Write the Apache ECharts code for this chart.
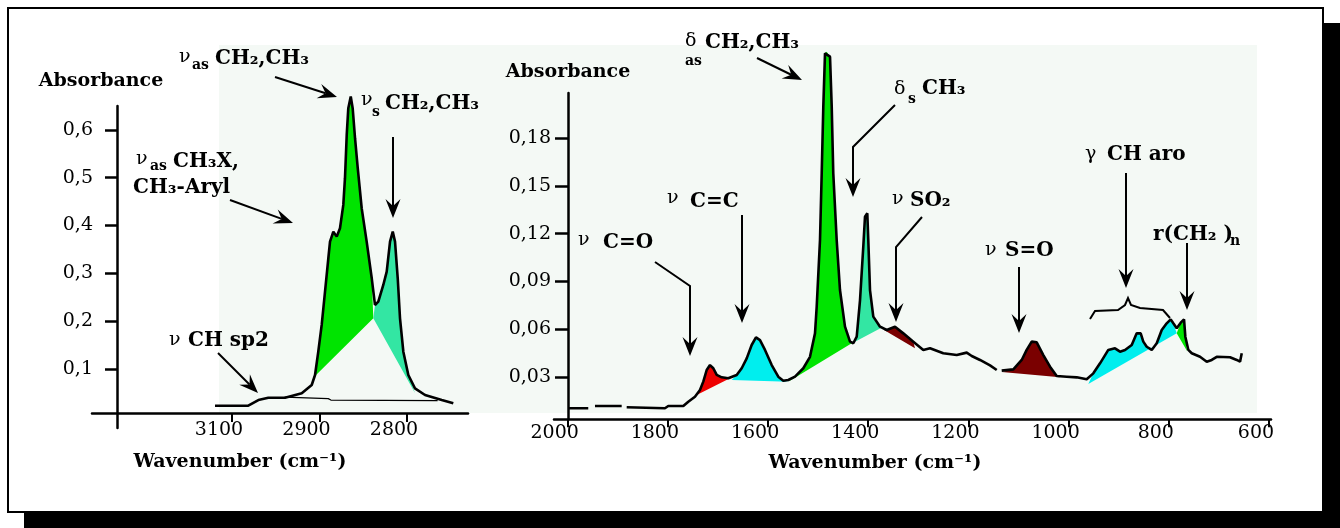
<!DOCTYPE html>
<html><head><meta charset="utf-8">
<script src="https://cdn.jsdelivr.net/npm/echarts@6/dist/echarts.min.js"></script>
<style>html,body{margin:0;padding:0;background:#fff}#c{width:1340px;height:528px}</style>
</head><body><div id="c"></div>
<script>
// ---------- data ----------
const leftWn = [3019.4, 2981.4, 2969.9, 2958.5, 2939.4, 2920.3, 2908.9, 2905.1, 2901.4, 2897.5, 2893.7, 2889.9, 2888.0, 2884.2, 2880.3, 2876.6, 2872.8, 2870.9, 2868.9, 2867.1, 2864.3, 2862.1, 2859.4, 2856.3, 2851.8, 2846.1, 2840.3, 2836.6, 2832.8, 2827.1, 2823.2, 2819.4, 2816.3, 2813.7, 2810.6, 2808.0, 2804.2, 2798.5, 2790.9, 2779.4, 2760.3, 2747.1];
const leftAbs = [0.0232, 0.0232, 0.0351, 0.0400, 0.0400, 0.0492, 0.0665, 0.0874, 0.1362, 0.1921, 0.2617, 0.3316, 0.3663, 0.3872, 0.3768, 0.3944, 0.4431, 0.4990, 0.5895, 0.6454, 0.6697, 0.6454, 0.5826, 0.5199, 0.4362, 0.3663, 0.2897, 0.2339, 0.2408, 0.2757, 0.3036, 0.3663, 0.3872, 0.3663, 0.2897, 0.2061, 0.1362, 0.0874, 0.0596, 0.0456, 0.0351, 0.0282];
const leftBaseWn = [2940, 2890, 2887, 2765];
const leftBaseAbs = [0.041, 0.038, 0.035, 0.034];
const leftBandWn = [[2907.4, 2838.5], [2838.5, 2790.9]];
const leftBandAbs = [[0.0812, 0.2061], [0.2061, 0.050]];
const leftXTicks = [3000, 2900, 2800];
const leftXTickLabels = ['3100', '2900', '2800'];
const leftYTicks = [0.1, 0.2, 0.3, 0.4, 0.5, 0.6];
const leftYTickLabels = ['0,1', '0,2', '0,3', '0,4', '0,5', '0,6'];

const rightWn = [1998.8, 1958.9, 1952, 1945.5, 1892.2, 1887, 1882.2, 1805.8, 1799.2, 1769.2, 1759.2, 1745.9, 1735.9, 1729.3, 1722.5, 1715.9, 1709.3, 1702.5, 1692.6, 1679.4, 1662.6, 1652.6, 1642.6, 1632.7, 1624.1, 1616.1, 1606.1, 1592.7, 1579.6, 1569.6, 1559.6, 1546.2, 1529.6, 1516.3, 1506.3, 1502.9, 1496.3, 1492.9, 1489.7, 1486.3, 1482.9, 1476.3, 1472.9, 1469.8, 1463.0, 1456.4, 1446.4, 1436.4, 1429.8, 1423.0, 1416.4, 1409.9, 1406.5, 1401.9, 1399.9, 1396.5, 1389.9, 1376.5, 1363.1, 1346.6, 1330.0, 1310.0, 1290.1, 1276.7, 1250.2, 1223.4, 1203.4, 1193.4, 1176.9, 1156.9, 1143.5, 1138, 1133.6, 1110.4, 1093.6, 1083.7, 1073.7, 1063.7, 1050.5, 1037.1, 1023.8, 1003.8, 983.8, 963.9, 950.7, 937.3, 920.8, 907.4, 897.4, 887.4, 874.0, 864.1, 856.1, 850.9, 844.1, 834.1, 824.1, 814.1, 804.2, 796.2, 791.0, 784.2, 776.2, 769.6, 767.0, 761.0, 754.2, 737.7, 724.3, 714.3, 704.3, 677.8, 664.4, 657.8, 654.4];
const rightAbs = [0.0104, 0.0104, null, 0.0118, 0.0118, null, 0.0110, 0.0104, 0.0118, 0.0118, 0.0145, 0.0176, 0.0218, 0.0271, 0.0344, 0.0375, 0.0355, 0.0313, 0.0298, 0.0292, 0.0313, 0.0355, 0.0417, 0.0501, 0.0549, 0.0532, 0.0470, 0.0375, 0.0302, 0.0277, 0.0281, 0.0302, 0.0355, 0.0427, 0.0574, 0.0741, 0.1160, 0.1579, 0.1997, 0.2332, 0.2342, 0.2311, 0.1997, 0.1579, 0.1160, 0.0846, 0.0616, 0.0522, 0.0512, 0.0553, 0.0783, 0.1118, 0.1306, 0.1328, 0.1160, 0.0846, 0.0679, 0.0616, 0.0595, 0.0616, 0.0574, 0.0522, 0.0470, 0.0480, 0.0449, 0.0438, 0.0453, 0.0432, 0.0407, 0.0373, 0.0344, null, 0.0340, 0.0348, 0.0407, 0.0470, 0.0522, 0.0518, 0.0438, 0.0365, 0.0306, 0.0302, 0.0298, 0.0286, 0.0323, 0.0386, 0.0470, 0.0480, 0.0459, 0.0470, 0.0501, 0.0574, 0.0574, 0.0522, 0.0490, 0.0470, 0.0512, 0.0595, 0.0637, 0.0662, 0.0637, 0.0606, 0.0641, 0.0662, 0.0553, 0.0470, 0.0449, 0.0427, 0.0396, 0.0407, 0.0427, 0.0424, 0.0407, 0.0396, 0.0449];
const rightBandWn = [[1742.5, 1676.0], [1672.6, 1559.6], [1559.6, 1433.0], [1426.4, 1369.9], [1368.5, 1306.7], [1133.6, 1017.2], [960.7, 784.2], [784.2, 763.6]];
const rightBandAbs = [[0.0187, 0.0292], [0.0281, 0.0271], [0.0271, 0.0512], [0.0522, 0.0616], [0.0595, 0.0480], [0.0331, 0.0298], [0.0256, 0.0574], [0.0574, 0.0463]];
const rightXTicks = [2000, 1800, 1600, 1400, 1200, 1000, 800, 600];
const rightXTickLabels = ['2000', '1800', '1600', '1400', '1200', '1000', '800', '600'];
const rightYTicks = [0.03, 0.06, 0.09, 0.12, 0.15, 0.18];
const rightYTickLabels = ['0,03', '0,06', '0,09', '0,12', '0,15', '0,18'];

// ---------- styling ----------
const FONT = 'DejaVu Serif';
const GREEN = '#00e400', MINT = '#33e6a3', CYAN = '#00eeee', RED = '#ee0000', DARKRED = '#7a0000';
const leftBandColors = [GREEN, MINT];
const rightBandColors = [RED, CYAN, GREEN, MINT, DARKRED, DARKRED, CYAN, GREEN];

function pairs(w, a) { return w.map((x, i) => [x, a[i] == null ? '-' : a[i]]); }
function lookup(ticks, labels) {
  return v => { const i = ticks.findIndex(t => Math.abs(t - v) < 1e-6); return i >= 0 ? labels[i] : ''; };
}
function bandSeries(g, wnArr, absArr, bWn, bAbs, colors) {
  return {
    type: 'custom', xAxisIndex: g, yAxisIndex: g, z: 2, silent: true, clip: false,
    data: bWn.map((b, i) => [b[0], bAbs[i][0], i]),
    encode: { x: 0, y: 1 },
    renderItem: (params, api) => {
      const i = params.dataIndex;
      const hi = bWn[i][0], lo = bWn[i][1];
      const pts = [api.coord([bWn[i][0], bAbs[i][0]])];
      for (let k = 0; k < wnArr.length; k++) {
        const w = wnArr[k], a = absArr[k];
        if (a == null) continue;
        if (w < hi - 1e-9 && w > lo + 1e-9) pts.push(api.coord([w, a]));
      }
      pts.push(api.coord([bWn[i][1], bAbs[i][1]]));
      return { type: 'polygon', shape: { points: pts }, style: { fill: colors[i] } };
    }
  };
}
const axisLineStyle = { color: '#000', width: 2.5 };
const tickFont = { fontFamily: FONT, fontSize: 19, color: '#000' };
const nameFont = { fontFamily: FONT, fontSize: 19, fontWeight: 'bold', color: '#000' };

// ---------- annotations (decorative graphics) ----------
const TXT = { g: [19, 'normal'], b: [20, 'bold'], s: [14, 'bold'] };
const labels = [
  ['ν', 179, 57, 'g'], ['as', 192, 65, 's'], ['CH₂,CH₃', 215, 59, 'b'],
  ['ν', 361, 100, 'g'], ['s', 372, 112, 's'], ['CH₂,CH₃', 385, 104, 'b'],
  ['ν', 136, 159, 'g'], ['as', 150, 166, 's'], ['CH₃X,', 173, 162, 'b'],
  ['CH₃-Aryl', 133, 188, 'b'],
  ['ν', 169, 340, 'g'], ['CH sp2', 188, 341, 'b'],
  ['δ', 685, 41, 'g'], ['as', 685, 61, 's'], ['CH₂,CH₃', 705, 43, 'b'],
  ['δ', 894, 89, 'g'], ['s', 908, 99, 's'], ['CH₃', 922, 89, 'b'],
  ['ν', 892, 199, 'g'], ['SO₂', 910, 201, 'b'],
  ['ν', 985, 250, 'g'], ['S=O', 1005, 251, 'b'],
  ['γ', 1085, 154, 'g'], ['CH aro', 1107, 155, 'b'],
  ['r(CH₂ )', 1153, 235, 'b'], ['n', 1230, 241, 's'],
  ['ν', 667, 198, 'g'], ['C=C', 690, 202, 'b'],
  ['ν', 578, 240, 'g'], ['C=O', 603, 243, 'b']
];
const arrows = [
  [[275, 77], [337, 97]],
  [[393, 137], [393, 218]],
  [[230, 200], [293, 223]],
  [[218, 353], [258, 393]],
  [[757, 58], [802, 80]],
  [[895, 105], [853, 147], [853, 197]],
  [[922, 217], [896, 247], [896, 322]],
  [[1019, 267], [1019, 333]],
  [[1126, 173], [1126, 288]],
  [[1187, 243], [1187, 310]],
  [[742, 215], [742, 323]],
  [[655, 262], [690, 286], [690, 356]]
];
const brace = [[1090, 319], [1095, 311], [1118, 310], [1125, 305], [1128, 298], [1131, 305], [1140, 308], [1163, 310], [1170, 318]];

function arrowEls(points) {
  const n = points.length, tip = points[n - 1], prev = points[n - 2];
  const dx = tip[0] - prev[0], dy = tip[1] - prev[1], L = Math.hypot(dx, dy);
  const ux = dx / L, uy = dy / L, len = 19, half = 7.5, notch = 12;
  const bx = tip[0] - ux * len, by = tip[1] - uy * len, px = -uy, py = ux;
  const nx = tip[0] - ux * notch, ny = tip[1] - uy * notch;
  return [
    { type: 'polyline', z: 50, shape: { points: points.slice(0, n - 1).concat([[nx, ny]]) }, style: { stroke: '#000', lineWidth: 2, fill: null } },
    { type: 'polygon', z: 50, shape: { points: [tip, [bx + px * half, by + py * half], [nx, ny], [bx - px * half, by - py * half]] }, style: { fill: '#000' } }
  ];
}
const graphics = [
  { type: 'rect', z: -30, shape: { x: 24, y: 23, width: 1316, height: 505 }, style: { fill: '#000' } },
  { type: 'rect', z: -29, shape: { x: 8, y: 8, width: 1315, height: 504 }, style: { fill: '#fff', stroke: '#000', lineWidth: 2 } },
  { type: 'rect', z: -28, shape: { x: 219, y: 45, width: 1038, height: 368 }, style: { fill: '#f4f9f5' } },
  { type: 'polyline', z: 50, shape: { points: brace }, style: { stroke: '#000', lineWidth: 2, fill: null } }
];
labels.forEach(l => {
  const t = TXT[l[3]];
  graphics.push({ type: 'text', z: 50, x: l[1], y: l[2], style: { text: l[0], fontFamily: FONT, fontSize: t[0], fontWeight: t[1], fill: '#000', align: 'left', verticalAlign: 'middle' } });
});
arrows.forEach(a => arrowEls(a).forEach(e => graphics.push(e)));

// ---------- chart ----------
const chart = echarts.init(document.getElementById('c'), null, { renderer: 'canvas' });
chart.setOption({
  animation: false,
  backgroundColor: '#ffffff',
  graphic: { elements: graphics },
  grid: [
    { left: 92, top: 106, width: 376, height: 322, containLabel: false, outerBoundsMode: 'none' },
    { left: 554, top: 93, width: 717, height: 326.3, containLabel: false, outerBoundsMode: 'none' }
  ],
  xAxis: [
    {
      type: 'value', gridIndex: 0, min: 2730.3, max: 3160, inverse: true, offset: -15,
      axisLine: { show: true, onZero: false, lineStyle: axisLineStyle },
      axisTick: { show: true, customValues: leftXTicks, length: 9, lineStyle: { color: '#000', width: 2 } },
      axisLabel: Object.assign({ customValues: leftXTicks, formatter: lookup(leftXTicks, leftXTickLabels), margin: 8, padding: [0, 26, 0, 0] }, tickFont),
      splitLine: { show: false },
      name: 'Wavenumber (cm⁻¹)', nameLocation: 'middle', nameGap: 40,
      nameTextStyle: Object.assign({ padding: [0, 80, 0, 0] }, nameFont)
    },
    {
      type: 'value', gridIndex: 1, min: 596, max: 2027.3, inverse: true,
      axisLine: { show: true, onZero: false, lineStyle: axisLineStyle },
      axisTick: { show: true, customValues: rightXTicks, length: 8, lineStyle: { color: '#000', width: 2 } },
      axisLabel: Object.assign({ customValues: rightXTicks, formatter: lookup(rightXTicks, rightXTickLabels), margin: 4, padding: [0, 26, 0, 0] }, tickFont),
      splitLine: { show: false },
      name: 'Wavenumber (cm⁻¹)', nameLocation: 'middle', nameGap: 34,
      nameTextStyle: Object.assign({ padding: [0, 75, 0, 0] }, nameFont)
    }
  ],
  yAxis: [
    {
      type: 'value', gridIndex: 0, min: -0.0234, max: 0.650, offset: -25,
      axisLine: { show: true, onZero: false, lineStyle: axisLineStyle },
      axisTick: { show: true, customValues: leftYTicks, length: 12, lineStyle: { color: '#000', width: 2.5 } },
      axisLabel: Object.assign({ customValues: leftYTicks, formatter: lookup(leftYTicks, leftYTickLabels), margin: 24 }, tickFont),
      splitLine: { show: false },
      name: 'Absorbance', nameLocation: 'end', nameGap: 15,
      nameTextStyle: Object.assign({ padding: [0, 32, 0, 0] }, nameFont)
    },
    {
      type: 'value', gridIndex: 1, min: 0.00345, max: 0.2083, offset: -14,
      axisLine: { show: true, onZero: false, lineStyle: axisLineStyle },
      axisTick: { show: true, customValues: rightYTicks, length: 13, lineStyle: { color: '#000', width: 2.5 } },
      axisLabel: Object.assign({ customValues: rightYTicks, formatter: lookup(rightYTicks, rightYTickLabels), margin: 17 }, tickFont),
      splitLine: { show: false },
      name: 'Absorbance', nameLocation: 'end', nameGap: 11,
      nameTextStyle: nameFont
    }
  ],
  series: [
    bandSeries(0, leftWn, leftAbs, leftBandWn, leftBandAbs, leftBandColors),
    bandSeries(1, rightWn, rightAbs, rightBandWn, rightBandAbs, rightBandColors),
    { type: 'line', xAxisIndex: 0, yAxisIndex: 0, data: pairs(leftBaseWn, leftBaseAbs), showSymbol: false, symbol: 'none', lineStyle: { color: '#000', width: 1.2 }, z: 4, silent: true, clip: false },
    { type: 'line', xAxisIndex: 0, yAxisIndex: 0, data: pairs(leftWn, leftAbs), showSymbol: false, symbol: 'none', lineStyle: { color: '#000', width: 2.6 }, z: 5, silent: true, clip: false },
    { type: 'line', xAxisIndex: 1, yAxisIndex: 1, data: pairs(rightWn, rightAbs), showSymbol: false, symbol: 'none', connectNulls: false, lineStyle: { color: '#000', width: 2.6 }, z: 5, silent: true, clip: false }
  ]
});
</script></body></html>
